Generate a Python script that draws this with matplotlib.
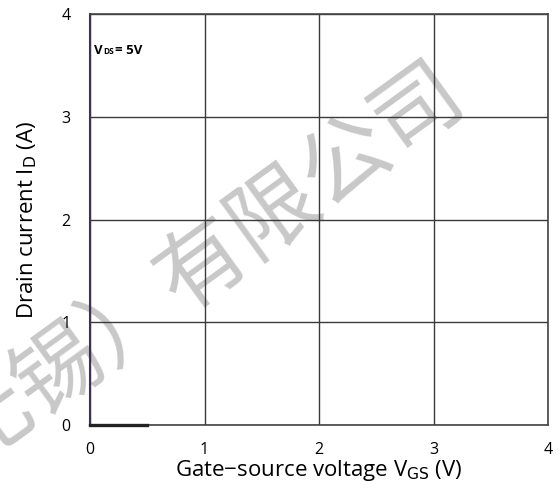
import matplotlib
matplotlib.use("Agg")
import matplotlib.pyplot as plt

# data
vgs = [0.0, 0.5]
id_a = [0.0, 0.0]
x_ticks = [0, 1, 2, 3, 4]
y_ticks = [0, 1, 2, 3, 4]

plt.rcParams['font.family'] = ['Open Sans', 'DejaVu Sans']

fig = plt.figure(figsize=(5.6, 4.92), dpi=100)
ax = fig.add_axes([90/560, 1-425/492, 458/560, 411/492])
ax.set_facecolor('none')

ax.set_xlim(0, 4)
ax.set_ylim(0, 4)
ax.set_xticks(x_ticks)
ax.set_yticks(y_ticks)
ax.tick_params(length=0, labelsize=11.5)
ax.tick_params(axis='x', pad=12)
ax.tick_params(axis='y', pad=14)
ax.grid(True, color='#3a3a3a', linewidth=1.0)
ax.set_axisbelow(True)
for s in ['top', 'right', 'bottom']:
    ax.spines[s].set_color('#444444')
    ax.spines[s].set_linewidth(1.2)
ax.spines['left'].set_color('#3f3151')
ax.spines['left'].set_linewidth(1.5)

ax.plot(vgs, id_a, color='#222222', linewidth=2.4, clip_on=False, zorder=5)

ax.set_xlabel('Gate\u2212source voltage V$_{\\mathrm{GS}}$ (V)', fontsize=16, labelpad=0)
ax.set_ylabel('Drain current I$_{\\mathrm{D}}$ (A)', fontsize=16, labelpad=16)

yb = 3.61
ax.text(0.035, yb, 'V', fontsize=9.5, fontweight='bold', va='baseline', ha='left')
ax.text(0.112, yb, 'DS', fontsize=6, fontweight='bold', va='baseline', ha='left')
ax.text(0.215, yb, '= 5V', fontsize=9.5, fontweight='bold', va='baseline', ha='left')

fig.text(203/560, 1-266/492, '无锡）有限公司', fontsize=64, color='#c8c8c8',
         rotation=36, ha='center', va='center', zorder=-1, fontweight='medium',
         family=['Noto Sans CJK SC', 'DejaVu Sans'])

fig.savefig('out.png', dpi=100)
